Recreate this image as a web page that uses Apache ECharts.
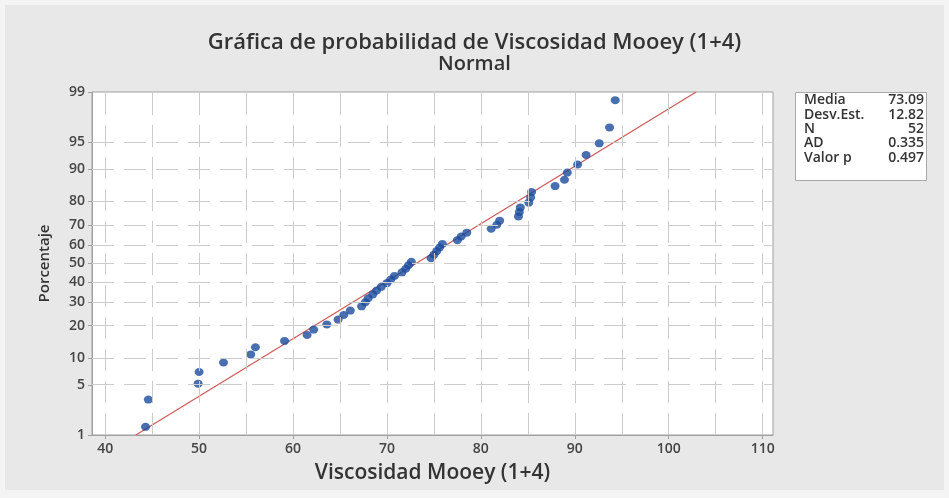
<!DOCTYPE html>
<html><head><meta charset="utf-8">
<script src="https://cdn.jsdelivr.net/npm/echarts@6/dist/echarts.min.js"></script>
<style>html,body{margin:0;padding:0;background:#f4f4f4}#c{width:949px;height:498px}</style>
</head><body><div id="c"></div>
<script>
const viscosity = [44.3,44.6,49.9,50.0,52.6,55.5,56.0,59.1,61.5,62.2,63.6,64.8,65.4,66.1,67.3,67.7,68.0,68.5,68.9,69.4,
  70.0,70.4,70.8,71.6,72.0,72.3,72.6,74.7,75.0,75.3,75.6,75.9,77.5,77.9,78.5,81.1,81.7,82.0,84.0,84.1,
  84.2,85.1,85.3,85.4,87.9,88.9,89.2,90.3,91.2,92.6,93.7,94.3];
// Plotting positions (percent) for each rank
const percentiles = [1.336,3.244,5.153,7.061,8.969,10.878,12.786,14.695,16.603,18.511,20.420,22.328,24.237,26.145,28.053,29.962,
  31.870,33.779,35.687,37.595,39.504,41.412,43.321,45.229,47.137,49.046,50.954,52.863,54.771,56.679,58.588,60.496,
  62.405,64.313,66.221,68.130,70.038,71.947,73.855,75.763,77.672,79.580,81.489,83.397,85.305,87.214,89.122,91.031,
  92.939,94.847,96.756,98.664];
const yTickLabels = [1,5,10,20,30,40,50,60,70,80,90,95,99];
const xTickLabels = [40,50,60,70,80,90,100,110];
const xGridValues = [40,45,50,55,60,65,70,75,80,85,90,95,100,105,110];
const fitPercents = [1,99];
const statNames = ['Media','Desv.Est.','N','AD','Valor p'];
const statValues = ['73.09','12.82','52','0.335','0.497'];
const mean = 73.09, sd = 12.82;

function norminv(p){
  const a=[-3.969683028665376e+01,2.209460984245205e+02,-2.759285104469687e+02,1.383577518672690e+02,-3.066479806614716e+01,2.506628277459239e+00];
  const b=[-5.447609879822406e+01,1.615858368580409e+02,-1.556989798598866e+02,6.680131188771972e+01,-1.328068155288572e+01];
  const c=[-7.784894002430293e-03,-3.223964580411365e-01,-2.400758277161838e+00,-2.549732539343734e+00,4.374664141464968e+00,2.938163982698783e+00];
  const d=[7.784695709041462e-03,3.224671290700398e-01,2.445134137142996e+00,3.754408661907416e+00];
  const pl=0.02425, ph=1-pl; let q,r;
  if(p<pl){q=Math.sqrt(-2*Math.log(p));return (((((c[0]*q+c[1])*q+c[2])*q+c[3])*q+c[4])*q+c[5])/((((d[0]*q+d[1])*q+d[2])*q+d[3])*q+1);}
  if(p<=ph){q=p-0.5;r=q*q;return (((((a[0]*r+a[1])*r+a[2])*r+a[3])*r+a[4])*r+a[5])*q/(((((b[0]*r+b[1])*r+b[2])*r+b[3])*r+b[4])*r+1);}
  q=Math.sqrt(-2*Math.log(1-p));return -(((((c[0]*q+c[1])*q+c[2])*q+c[3])*q+c[4])*q+c[5])/((((d[0]*q+d[1])*q+d[2])*q+d[3])*q+1);
}
const z = p => norminv(p/100);
const yTickZ = yTickLabels.map(z);
const yMin = z(1), yMax = z(99);

const points = viscosity.map((v,i)=>[v, z(percentiles[i])]);
const fitLine = fitPercents.map(p=>[mean + sd*z(p), z(p)]);

const gridMarks = xGridValues.map(v=>({xAxis:v})).concat(yTickLabels.slice(1,-1).map(p=>({yAxis:z(p)})));

const font = "'Open Sans', sans-serif";
const chart = echarts.init(document.getElementById('c'));
const statGraphics = [];
statNames.forEach((n,i)=>{
  const y = 102.5 + i*14.3;
  statGraphics.push({type:'text', left:804, top:y-9, style:{text:n, font:"600 14px "+font, fill:'#333'}});
  statGraphics.push({type:'text', right:25, top:y-9, style:{text:statValues[i], font:"600 14px "+font, fill:'#333', textAlign:'right'}});
});
chart.setOption({
  backgroundColor:'#f4f4f4',
  animation:false,
  graphic:[
    {type:'rect', shape:{x:5,y:5,width:939,height:485}, style:{fill:'#e8e8e8'}, z:-10},
    {type:'rect', shape:{x:795.5,y:92.5,width:131,height:88}, style:{fill:'#fff', stroke:'#a8a8a8', lineWidth:1}, z:-5}
  ].concat(statGraphics),
  title:[
    {text:'Gráfica de probabilidad de Viscosidad Mooey (1+4)', left:'center', top:27,
     textStyle:{fontFamily:font, fontWeight:600, fontSize:22, color:'#333'}},
    {text:'Normal', left:'center', top:49, textStyle:{fontFamily:font, fontWeight:600, fontSize:20, color:'#333'}}
  ],
  grid:{left:92, right:176, top:92, bottom:63, show:true, backgroundColor:'#fff', borderColor:'#a0a0a0', borderWidth:1},
  xAxis:{type:'value', min:38.6, max:111.1,
    name:'Viscosidad Mooey (1+4)', nameLocation:'middle', nameGap:28,
    nameTextStyle:{fontFamily:font, fontWeight:600, fontSize:21, color:'#333'},
    axisLine:{show:true, onZero:false, lineStyle:{color:'#a0a0a0'}},
    axisTick:{show:true, customValues:xTickLabels, length:4, lineStyle:{color:'#a0a0a0'}},
    axisLabel:{customValues:xTickLabels, fontFamily:font, fontWeight:600, fontSize:14, color:'#444', margin:7},
    splitLine:{show:false}},
  yAxis:{type:'value', min:yMin, max:yMax,
    name:'Porcentaje', nameLocation:'middle', nameGap:40, nameRotate:90,
    nameTextStyle:{fontFamily:font, fontWeight:600, fontSize:15, color:'#333'},
    axisLine:{show:true, onZero:false, lineStyle:{color:'#a0a0a0'}},
    axisTick:{show:true, customValues:yTickZ, length:4, lineStyle:{color:'#a0a0a0'}},
    axisLabel:{customValues:yTickZ, fontFamily:font, fontWeight:600, fontSize:14, color:'#444', margin:7,
      formatter:v=>{let best=0,bd=1e9;yTickZ.forEach((t,i)=>{const dd=Math.abs(t-v);if(dd<bd){bd=dd;best=i;}});return String(yTickLabels[best]);}},
    splitLine:{show:false}},
  series:[
    {type:'line', data:[], markLine:{silent:true, symbol:'none', label:{show:false},
      lineStyle:{color:'#cccccc', type:[22,10], width:1}, data:gridMarks}},
    {type:'line', data:fitLine, symbol:'none', lineStyle:{color:'#cf5d5a', width:1.3}, z:3},
    {type:'scatter', data:points, symbol:'circle', symbolSize:[9,8], itemStyle:{color:'#1a4c9e'}, z:4}
  ]
});
</script></body></html>
